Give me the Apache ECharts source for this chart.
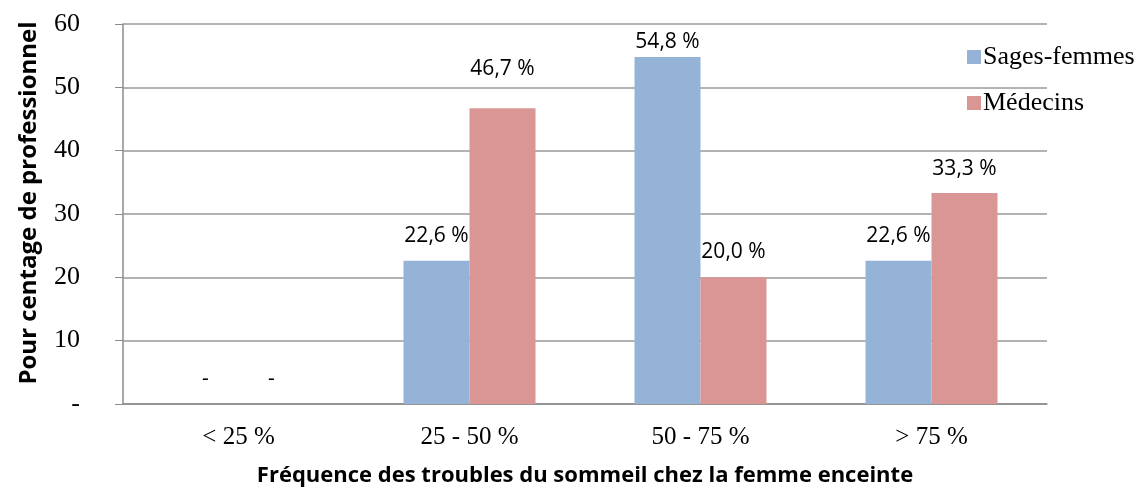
<!DOCTYPE html>
<html>
<head>
<meta charset="utf-8">
<script src="https://cdn.jsdelivr.net/npm/echarts@6/dist/echarts.min.js"></script>
<style>
  html, body { margin: 0; padding: 0; background: #fff; }
  #chart { width: 1138px; height: 492px; }
</style>
</head>
<body>
<div id="chart"></div>
<script>
const categories = ['< 25 %', '25 - 50 %', '50 - 75 %', '> 75 %'];
const sagesFemmes = [0, 22.6, 54.8, 22.6];
const medecins = [0, 46.7, 20.0, 33.3];
const yTicks = [0, 10, 20, 30, 40, 50, 60];

// label lift above each bar, as placed in the original
const sfLabelGap = [14, 14, 4, 14];
const medLabelGap = [14, 29, 15, 14];

const chart = echarts.init(document.getElementById('chart'));

function pct(p) {
  if (p.value === 0) return '-';
  return p.value.toFixed(1).replace('.', ',') + ' %';
}

const labelStyle = {
  show: true,
  position: 'top',
  formatter: pct,
  fontFamily: 'Open Sans, sans-serif',
  fontSize: 21,
  color: '#000'
};

const serif = 'Liberation Serif, serif';
const titleStyle = { fontFamily: 'Open Sans, sans-serif', fontWeight: 'bold', fontSize: 22, color: '#000' };

chart.setOption({
  animation: false,
  grid: { left: 123, right: 91, top: 24, bottom: 84 },
  legend: {
    orient: 'vertical',
    left: 962,
    top: 39,
    itemWidth: 14,
    itemHeight: 14,
    itemGap: 20,
    icon: 'rect',
    textStyle: { fontFamily: serif, fontSize: 26, color: '#000', padding: [0, 0, 0, -3] },
    data: ['Sages-femmes', 'Médecins']
  },
  xAxis: {
    type: 'category',
    data: categories,
    name: 'Fréquence des troubles du sommeil chez la femme enceinte',
    nameLocation: 'middle',
    nameGap: 61,
    nameTextStyle: titleStyle,
    axisLine: { lineStyle: { color: '#8c8c8c', width: 1.5 } },
    axisTick: { show: false },
    axisLabel: { fontFamily: serif, fontSize: 25, color: '#000', margin: 21 }
  },
  yAxis: {
    type: 'value',
    min: yTicks[0],
    max: yTicks[yTicks.length - 1],
    interval: 10,
    name: 'Pour centage de professionnel',
    nameLocation: 'middle',
    nameGap: 82,
    nameTextStyle: Object.assign({}, titleStyle, { fontSize: 24, padding: [0, 0, 0, 22] }),
    axisLine: { show: true, lineStyle: { color: '#8c8c8c', width: 1.5 } },
    axisTick: { show: true, length: 8, lineStyle: { color: '#8c8c8c' } },
    axisLabel: {
      fontFamily: serif, fontSize: 26, color: '#000', margin: 43,
      align: 'right',
      formatter: v => v === 0 ? '-' : String(v)
    },
    splitLine: { lineStyle: { color: '#9a9a9a', width: 1.5 } }
  },
  series: [
    {
      name: 'Sages-femmes',
      type: 'bar',
      data: sagesFemmes.map((v, i) => ({ value: v, label: { distance: sfLabelGap[i] } })),
      barWidth: 66,
      barGap: '0%',
      itemStyle: { color: '#95B3D7' },
      label: labelStyle
    },
    {
      name: 'Médecins',
      type: 'bar',
      data: medecins.map((v, i) => ({ value: v, label: { distance: medLabelGap[i] } })),
      barWidth: 66,
      itemStyle: { color: '#D99694' },
      label: labelStyle
    }
  ]
});
</script>
</body>
</html>
